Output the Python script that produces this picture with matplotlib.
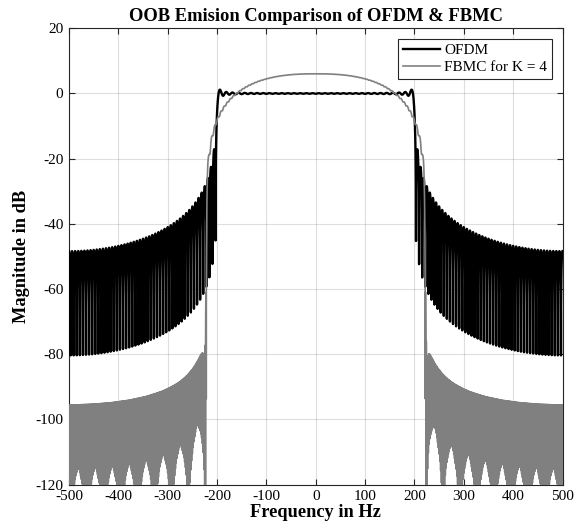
import numpy as np
import matplotlib
matplotlib.use("Agg")
import matplotlib.pyplot as plt

# ---------------- values ----------------
title_text = "OOB Emision Comparison of OFDM & FBMC"
x_label = "Frequency in Hz"
y_label = "Magnitude in dB"
legend_labels = ["OFDM", "FBMC for K = 4"]
x_limits = [-500, 500]
y_limits = [-120, 20]
x_ticks = [-500, -400, -300, -200, -100, 0, 100, 200, 300, 400, 500]
y_ticks = [-120, -100, -80, -60, -40, -20, 0, 20]

# signal model parameters (band edges, lobe spacing, levels)
sample_rate_hz = 1000.0
fft_size = 160                    # -> 6.25 Hz subcarrier spacing
ofdm_subcarriers = 64             # occupies -200 ... 200 Hz
ofdm_time_offset_s = 0.00041      # sub-sample offset of the OFDM symbol
ofdm_null_offset_hz = 0.05        # sampling offset from the spectral nulls
ofdm_grid_step_hz = 0.25

fbmc_K = 4
fbmc_subcarriers = 70             # occupies about -219 ... 219 Hz
phydyas_coeffs = [1.0, 0.97195983, 0.70710678, 0.23514695]
fbmc_peak_gain = 2.0              # +6 dB plateau
fbmc_taper_edge_hz = 222.0        # rounded FBMC passband
fbmc_taper_power = 1.25
fbmc_leak_oqam = 0.0042           # prototype side-lobe floor (OQAM phased part)
fbmc_leak_common = 5.0e-5         # prototype side-lobe floor (common part)
fbmc_grid_step_hz = 1.5625 / (14 + 1 / 22)

plt.rcParams['path.simplify'] = False
plt.rcParams['axes.unicode_minus'] = False
plt.rcParams['font.family'] = ['Liberation Serif', 'DejaVu Serif']


def dirichlet(f, length, fs):
    num = np.sin(np.pi * f * length / fs)
    den = length * np.sin(np.pi * f / fs)
    out = np.ones_like(f)
    ok = np.abs(den) > 1e-12
    out[ok] = num[ok] / den[ok]
    return out


fs = sample_rate_hz
df = fs / fft_size

# ---------------- OFDM spectrum ----------------
half_df = df / 2
i0 = int(np.floor((x_limits[0] - half_df) / ofdm_grid_step_hz)) - 1
i1 = int(np.ceil((x_limits[1] - half_df) / ofdm_grid_step_hz)) + 1
f_ofdm = half_df + ofdm_null_offset_hz + ofdm_grid_step_hz * np.arange(i0, i1 + 1)
f_ofdm = f_ofdm[(f_ofdm >= x_limits[0]) & (f_ofdm <= x_limits[1])]
c_ofdm = (np.arange(ofdm_subcarriers) - (ofdm_subcarriers - 1) / 2) * df
ph_ofdm = np.exp(-2j * np.pi * c_ofdm * ofdm_time_offset_s)
D = dirichlet(f_ofdm[:, None] - c_ofdm[None, :], fft_size, fs)
S_ofdm = (D * ph_ofdm[None, :]).sum(axis=1)
db_ofdm = 20 * np.log10(np.abs(S_ofdm) + 1e-12)

# ---------------- FBMC spectrum: PHYDYAS prototype, OQAM phases ----------------
L = fbmc_K * fft_size
j0 = int(np.floor(x_limits[0] / fbmc_grid_step_hz)) - 1
j1 = int(np.ceil(x_limits[1] / fbmc_grid_step_hz)) + 1
f_fbmc = fbmc_grid_step_hz * (np.arange(j0, j1 + 1) + 0.5)
f_fbmc = f_fbmc[(f_fbmc >= x_limits[0]) & (f_fbmc <= x_limits[1])]
m_idx = np.arange(fbmc_subcarriers)
c_fbmc = (m_idx - (fbmc_subcarriers - 1) / 2) * df
rel = np.clip(np.abs(c_fbmc) / fbmc_taper_edge_hz, 0, 1)
amp = fbmc_peak_gain * np.cos(0.5 * np.pi * rel ** fbmc_taper_power)
oqam = 1j ** m_idx
F = f_fbmc[:, None] - c_fbmc[None, :]
D0 = dirichlet(F, L, fs)
P = np.zeros_like(F)
for k in range(-(fbmc_K - 1), fbmc_K):
    P = P + phydyas_coeffs[abs(k)] * dirichlet(F - k * df / fbmc_K, L, fs)
S_fbmc = (P * (amp * oqam)[None, :]).sum(axis=1)
S_fbmc = S_fbmc + fbmc_leak_oqam * (D0 * oqam[None, :]).sum(axis=1)
S_fbmc = S_fbmc + fbmc_leak_common * D0.sum(axis=1)
db_fbmc = 20 * np.log10(np.abs(S_fbmc) + 1e-12)

# ---------------- figure ----------------
fig = plt.figure(figsize=(5.85, 5.28), dpi=100)
ax = fig.add_axes([69 / 585, 1 - 484.5 / 528, (562.5 - 69) / 585, (484.5 - 28.3) / 528])

ax.plot(f_ofdm, db_ofdm, color='black', lw=1.7, label=legend_labels[0], zorder=3)
ax.plot(f_fbmc, db_fbmc, color=(0.5, 0.5, 0.5), lw=1.2, label=legend_labels[1], zorder=4)

ax.set_xlim(x_limits)
ax.set_ylim(y_limits)
ax.set_xticks(x_ticks)
ax.set_yticks(y_ticks)
ax.grid(True, color=(0.15, 0.15, 0.15), alpha=0.15, lw=0.8)
ax.set_axisbelow(True)
ax.tick_params(direction='in', top=True, right=True, labelsize=11, length=4, width=0.8,
               colors=(0.15, 0.15, 0.15), labelcolor='black', pad=4)
for s in ax.spines.values():
    s.set_linewidth(0.8)
    s.set_color((0.15, 0.15, 0.15))

ax.set_title(title_text, fontsize=13.3, fontweight='bold', pad=5)
ax.set_xlabel(x_label, fontsize=13.2, fontweight='bold', labelpad=1)
ax.set_ylabel(y_label, fontsize=13.2, fontweight='bold', labelpad=4)

leg = ax.legend(loc='upper right', fontsize=11, frameon=True, fancybox=False,
                edgecolor=(0.15, 0.15, 0.15), framealpha=1, handlelength=2.4,
                borderpad=0.3, labelspacing=0.2, handletextpad=0.3,
                borderaxespad=0.7)
leg.get_frame().set_linewidth(0.8)

fig.savefig("out.png", dpi=100)
